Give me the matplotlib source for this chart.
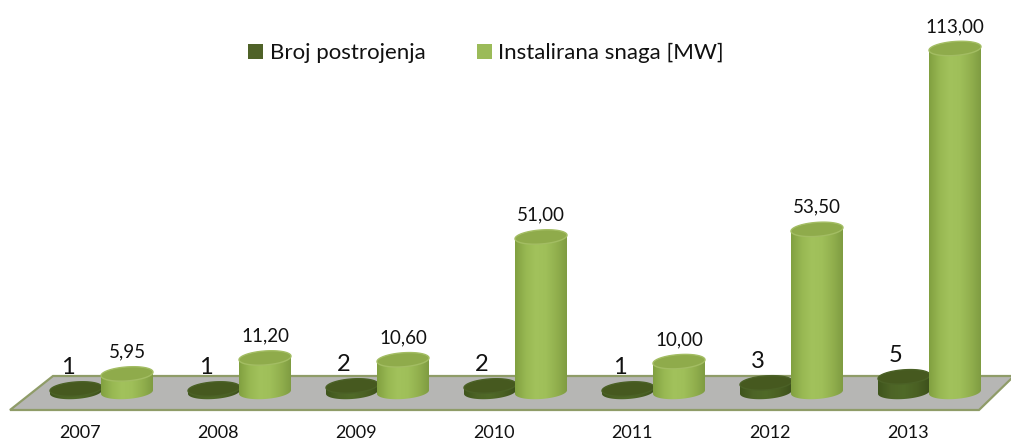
#!/usr/bin/env python3
"""Broj postrojenja i instalirana snaga po godinama, 3D cylinders on a grey floor."""
import matplotlib; matplotlib.use("Agg")
import matplotlib.pyplot as plt
import numpy as np
from matplotlib.colors import LinearSegmentedColormap
from matplotlib.patches import Patch, Polygon
plt.rcParams.update({"font.family":["Lato","DejaVu Sans"],"figure.dpi":100,"savefig.dpi":100})

years=["2007","2008","2009","2010","2011","2012","2013"]
plants=[1,1,2,2,1,3,5]
power=[5.95,11.20,10.60,51.00,10.00,53.50,113.00]
power_labels=["5,95","11,20","10,60","51,00","10,00","53,50","113,00"]
name_plants="Broj postrojenja"; name_power="Instalirana snaga [MW]"

W,H=1011,443
X0,DX=80,138      # pixel of first year, pixels per year
Y0,SY=392,3.04    # pixel of value 0, pixels per unit
AX_BOTTOM=415
def dx(px): return px/DX
def dy(px): return px/SY

fig=plt.figure(figsize=(W/100,H/100))
ax=fig.add_axes([0,(H-AX_BOTTOM)/H,1,AX_BOTTOM/H])
for s in ax.spines.values(): s.set_visible(False)
ax.patch.set_visible(False)

# floor, given in pixels
floor=[(53,376),(1014,376),(979,410),(10,410)]
ax.add_patch(Polygon([((x-X0)/DX,(Y0-y)/SY) for x,y in floor],closed=True,fc="#b6b6b4",ec="#8f9c68",
                     lw=1.6,clip_on=False,zorder=1))

def cylinder(xc,val,cmap,top_c,rim_c,z):
    a=dx(26); b=dy(7); k=dy(1.8); h=val
    t=np.linspace(0,np.pi,60)
    # lower half of the base ellipse, going left to right, tilted up to the right
    bx=xc-a*np.cos(t); by=-b*np.sin(t)-k*np.cos(t)
    xs=np.r_[xc-a,bx,xc+a]; ys=np.r_[h-k,by,h+k]
    body=Polygon(np.c_[xs,ys],closed=True,fc="none",ec="none",zorder=z)
    ax.add_patch(body)
    grad=np.linspace(0,1,128)[None,:]
    im=ax.imshow(grad,extent=[xc-a,xc+a,-b-k,h+k],aspect="auto",cmap=cmap,vmin=0,vmax=1,zorder=z,interpolation="bilinear")
    im.set_clip_path(body)
    tt=np.linspace(0,2*np.pi,90)
    ax.add_patch(Polygon(np.c_[xc+a*np.cos(tt),h+b*np.sin(tt)+k*np.cos(tt)],closed=True,fc=top_c,ec=rim_c,lw=1.0,zorder=z+.1))

cm_green=LinearSegmentedColormap.from_list("g",["#81a040","#97b752","#a2c25c","#9fbf59","#92b04e","#7f9c42"])
cm_dark=LinearSegmentedColormap.from_list("d",["#3f551c","#4d6426","#506a28","#4a6023","#3d511c"])

for i in range(len(years)):
    xd=i-dx(4); xg=i+dx(47)
    cylinder(xd,plants[i],cm_dark,"#46591f","#4b6126",3+i*.01)
    cylinder(xg,power[i],cm_green,"#8fab4b","#a3bd63",4+i*.01)
    ax.text(i-dx(12),plants[i]+dy(21),str(plants[i]),ha="center",va="center",fontsize=17,color="#111111",zorder=6)
    ax.text(xg,power[i]+dy(22),power_labels[i],ha="center",va="center",fontsize=13.5,color="#111111",zorder=6)

ax.set_xlim(-X0/DX,(W-X0)/DX)
ax.set_ylim(-(AX_BOTTOM-Y0)/SY,Y0/SY)
ax.set_yticks([])
ax.set_xticks(range(len(years))); ax.set_xticklabels(years,fontsize=13,color="#111111")
ax.tick_params(axis="x",length=0,pad=7.5)

ax.legend(handles=[Patch(fc="#4f6228",ec="none",label=name_plants),Patch(fc="#9bbb59",ec="none",label=name_power)],
          ncol=2,frameon=False,fontsize=16,handlelength=.68,handleheight=.68,handletextpad=.3,columnspacing=2.3,
          loc="center",bbox_to_anchor=(486/W,(H-53)/H),bbox_transform=fig.transFigure,borderpad=0,borderaxespad=0,labelcolor="#111111")

fig.savefig("out.png")
print("wrote out.png")
